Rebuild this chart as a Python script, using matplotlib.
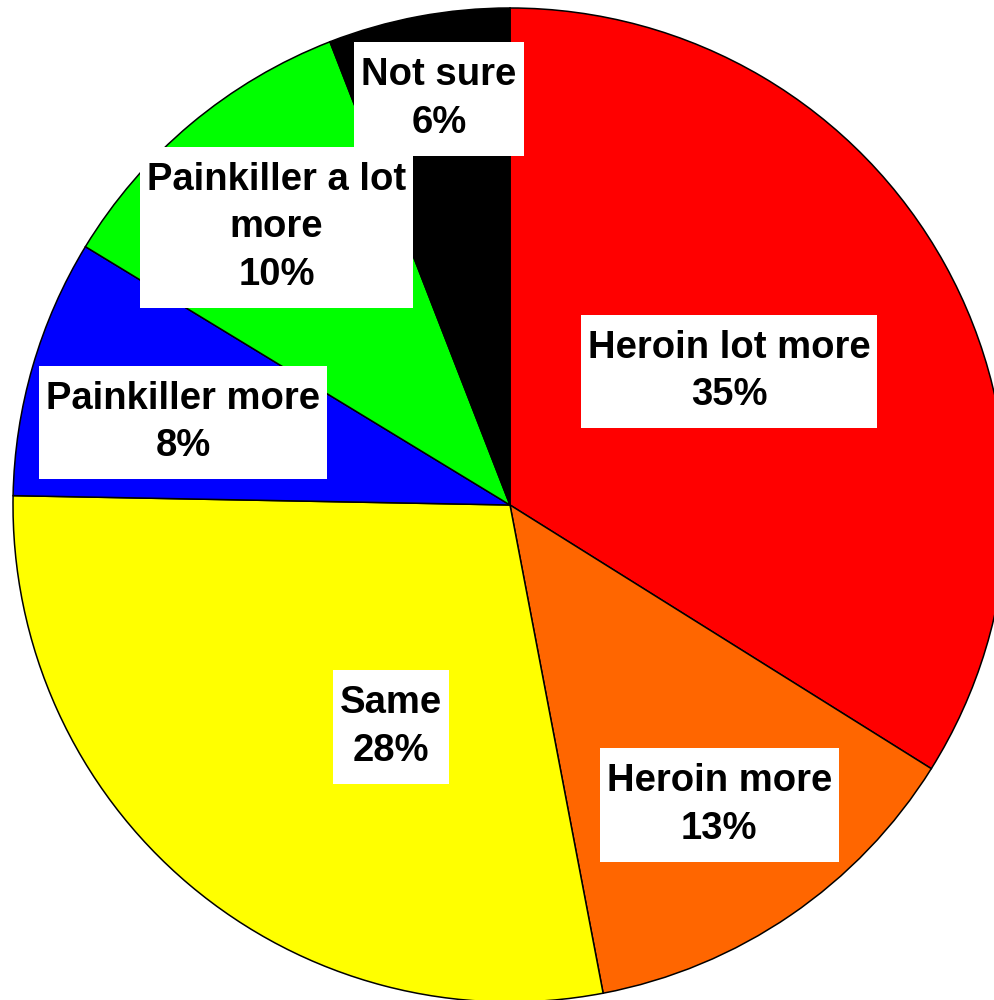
import numpy as np
import matplotlib
matplotlib.use("Agg")
import matplotlib.pyplot as plt
from matplotlib.patches import Rectangle

# data (wedge shares) and the printed labels
names = ["Heroin lot more", "Heroin more", "Same", "Painkiller more",
         "Painkiller a lot\nmore", "Not sure"]
shares = [33.9, 13.1, 28.3, 8.4, 10.4, 5.9]
pct_labels = ["35%", "13%", "28%", "8%", "10%", "6%"]
colors = ["#FF0000", "#FF6600", "#FFFF00", "#0000FF", "#00FF00", "#000000"]

# label placement: fraction of radius and angular nudge (deg, clockwise)
label_r = [0.516, 0.736, 0.507, 0.678, 0.730, 0.829]
label_shift = [-2.4, -0.5, -11.9, -2.0, -0.1, 0.7]

W, H = 995, 1000
cx, cy, R = 510, H - 505, 497
pad_x, pad_y = 7, 15  # box padding in pixels

fig = plt.figure(figsize=(W / 100, H / 100), dpi=100)
ax = fig.add_axes([0, 0, 1, 1])

wedges, _ = ax.pie(shares, colors=colors, startangle=90, counterclock=False,
                   center=(cx, cy), radius=R,
                   wedgeprops=dict(edgecolor="black", linewidth=1.1))
ax.set_xlim(0, W)
ax.set_ylim(0, H)
ax.set_aspect("auto")
ax.axis("off")

texts = []
for w, name, pct, f, s in zip(wedges, names, pct_labels, label_r, label_shift):
    mid = np.deg2rad((w.theta1 + w.theta2) / 2 - s)
    x = cx + f * R * np.cos(mid)
    y = cy + f * R * np.sin(mid)
    t = ax.text(x, y, name + "\n" + pct, ha="center", va="center",
                fontsize=27.5, fontweight="bold",
                family=["Liberation Sans", "DejaVu Sans"],
                linespacing=1.41, zorder=5)
    texts.append(t)

fig.canvas.draw()
r = fig.canvas.get_renderer()
for t in texts:
    bb = t.get_window_extent(renderer=r)
    ax.add_patch(Rectangle((bb.x0 - pad_x, bb.y0 - pad_y),
                           bb.width + 2 * pad_x, bb.height + 2 * pad_y,
                           facecolor="white", edgecolor="none", zorder=4))

fig.savefig("out.png", dpi=100)
